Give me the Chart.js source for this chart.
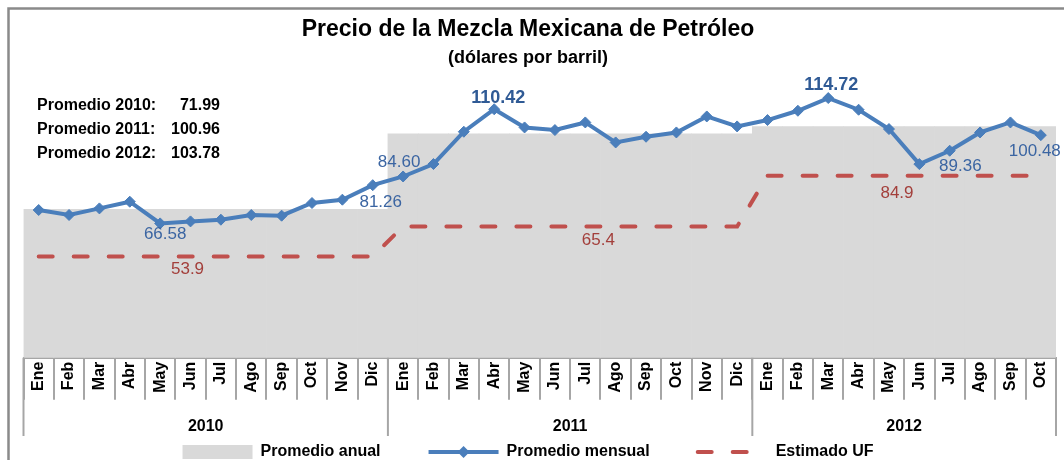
<!DOCTYPE html>
<html>
<head>
<meta charset="utf-8">
<script src="https://cdn.jsdelivr.net/npm/chart.js@4/dist/chart.umd.min.js"></script>
<style>
  html, body { margin: 0; padding: 0; background: #fff; overflow: hidden; }
  #wrap { width: 1064px; height: 470px; }
</style>
</head>
<body>
<div id="wrap"><canvas id="precio" width="1064" height="470"></canvas></div>
<script>
// Datos del grafico
var years = ['2010', '2011', '2012'];
var monthNames = ['Ene', 'Feb', 'Mar', 'Abr', 'May', 'Jun', 'Jul', 'Ago', 'Sep', 'Oct', 'Nov', 'Dic'];
var monthsPerYear = [12, 12, 10];
var promedioMensual = [
    71.72, 69.80, 72.34, 74.91, 66.58, 67.35, 68.00, 69.80, 69.54, 74.41, 75.68, 81.26,
    84.60, 89.38, 101.78, 110.42, 103.43, 102.43, 105.35, 97.67, 99.86, 101.51, 107.65, 103.82,
    106.27, 109.84, 114.72, 110.23, 102.82, 89.36, 94.49, 101.51, 105.35, 100.48
];
var promedioAnual = [71.99, 100.96, 103.78];
var estimadoUF = [53.9, 65.4, 84.9];

var FONT = 'Arial, "Liberation Sans", sans-serif';
Chart.defaults.font.family = FONT;

// one label per month, annual values repeated across each year
var labels = [], anual = [], uf = [];
years.forEach(function (y, k) {
    for (var m = 0; m < monthsPerYear[k]; m++) {
        labels.push(monthNames[m]);
        anual.push(promedioAnual[k]);
        uf.push(estimadoUF[k]);
    }
});

// data labels: dataset, index, offset
var etiquetas = [
    {ds: 1, i: 4, dx: 5, dy: 11},
    {ds: 1, i: 11, dx: 8, dy: 17},
    {ds: 1, i: 12, dx: -4, dy: -14},
    {ds: 1, i: 15, dx: 4, dy: -11, bold: true},
    {ds: 1, i: 26, dx: 3, dy: -13, bold: true},
    {ds: 1, i: 29, dx: 41, dy: 2},
    {ds: 1, i: 33, dx: -6, dy: 16},
    {ds: 2, i: 5, dx: -3, dy: 13},
    {ds: 2, i: 18, dx: 13, dy: 14},
    {ds: 2, i: 28, dx: 8, dy: 18}
];

var UF_DASH = [14, 21];

var extras = {
    id: 'extras',
    beforeDraw: function (chart) {
        var ctx = chart.ctx;
        ctx.save();
        ctx.fillStyle = '#fff';
        ctx.fillRect(0, 0, chart.width, chart.height);
        ctx.strokeStyle = '#8a8a8a';
        ctx.lineWidth = 2.5;
        ctx.beginPath();
        ctx.moveTo(8.5, chart.height);
        ctx.lineTo(8.5, 8.5);
        ctx.lineTo(chart.width, 8.5);
        ctx.stroke();
        ctx.restore();
    },
    afterDraw: function (chart) {
        var ctx = chart.ctx;
        var x = chart.scales.x;
        var area = chart.chartArea;
        ctx.save();

        // year separators and year labels
        var start = 0;
        var edges = [area.left];
        ctx.strokeStyle = '#a6a6a6';
        ctx.lineWidth = 2;
        ctx.font = 'bold 16px ' + FONT;
        ctx.fillStyle = '#000';
        ctx.textAlign = 'center';
        ctx.textBaseline = 'middle';
        years.forEach(function (y, k) {
            var end = start + monthsPerYear[k];
            var right = end >= labels.length ? area.right :
                (x.getPixelForTick(end - 1) + x.getPixelForTick(end)) / 2;
            edges.push(right);
            ctx.fillText(y, (edges[k] + right) / 2, 427);
            start = end;
        });
        edges.forEach(function (e) {
            ctx.beginPath();
            ctx.moveTo(e, area.bottom);
            ctx.lineTo(e, 436);
            ctx.stroke();
        });

        // data labels
        etiquetas.forEach(function (l) {
            var pt = chart.getDatasetMeta(l.ds).data[l.i];
            var v = chart.data.datasets[l.ds].data[l.i];
            if (l.ds === 1) {
                ctx.fillStyle = l.bold ? '#2f5a95' : '#3b65a2';
                ctx.font = (l.bold ? 'bold 18px ' : '17px ') + FONT;
                v = v.toFixed(2);
            } else {
                ctx.fillStyle = '#a33f3b';
                ctx.font = '17px ' + FONT;
            }
            ctx.fillText(String(v), pt.x + l.dx, pt.y + l.dy);
        });

        // annual averages
        ctx.font = 'bold 16px ' + FONT;
        ctx.fillStyle = '#000';
        years.forEach(function (y, k) {
            var ty = 106 + k * 24;
            ctx.textAlign = 'left';
            ctx.fillText('Promedio ' + y + ':', 37, ty);
            ctx.textAlign = 'right';
            ctx.fillText(promedioAnual[k].toFixed(2), 220, ty);
        });

        // diamond on the monthly legend line
        var lg = chart.legend;
        lg.legendItems.forEach(function (it, k) {
            if (it.datasetIndex !== 1) return;
            var hb = lg.legendHitBoxes[k];
            var cx = hb.left + 35, cy = hb.top + hb.height / 2;
            ctx.fillStyle = '#4a7ebb';
            ctx.beginPath();
            ctx.moveTo(cx, cy - 6);
            ctx.lineTo(cx + 6, cy);
            ctx.lineTo(cx, cy + 6);
            ctx.lineTo(cx - 6, cy);
            ctx.closePath();
            ctx.fill();
        });
        ctx.restore();
    }
};

new Chart(document.getElementById('precio'), {
    type: 'bar',
    data: {
        labels: labels,
        datasets: [
            {
                label: 'Promedio anual',
                data: anual,
                backgroundColor: '#d9d9d9',
                barPercentage: 1,
                categoryPercentage: 1,
                order: 3
            },
            {
                type: 'line',
                label: 'Promedio mensual',
                data: promedioMensual,
                borderColor: '#4a7ebb',
                backgroundColor: '#4a7ebb',
                borderWidth: 4,
                pointStyle: 'rectRot',
                pointRadius: 5.5,
                pointBorderWidth: 1,
                tension: 0,
                order: 1
            },
            {
                type: 'line',
                label: 'Estimado UF',
                data: uf,
                borderColor: '#c0504d',
                backgroundColor: '#c0504d',
                borderWidth: 4,
                borderDash: UF_DASH,
                borderCapStyle: 'round',
                pointRadius: 0,
                tension: 0,
                order: 2
            }
        ]
    },
    options: {
        responsive: false,
        animation: false,
        layout: { padding: { left: 0, right: 8, top: 0, bottom: 0 } },
        scales: {
            x: {
                offset: true,
                grid: { offset: true, drawOnChartArea: false, tickLength: 42, color: '#a6a6a6', lineWidth: 2 },
                border: { color: '#a6a6a6', width: 2 },
                ticks: {
                    autoSkip: false,
                    minRotation: 90,
                    maxRotation: 90,
                    padding: -38,
                    color: '#000',
                    font: { size: 16, weight: 'bold' }
                },
                afterFit: function (s) { s.height = 38.3; }
            },
            y: {
                min: 15,
                max: 125.8,
                ticks: { display: false },
                grid: { display: false },
                border: { display: false },
                afterFit: function (s) { s.width = 23.5; }
            }
        },
        plugins: {
            title: {
                display: true,
                text: 'Precio de la Mezcla Mexicana de Petróleo',
                color: '#000',
                font: { size: 23, weight: 'bold' },
                padding: { top: 16, bottom: 4 }
            },
            subtitle: {
                display: true,
                text: '(dólares por barril)',
                color: '#000',
                font: { size: 18, weight: 'bold' },
                padding: { top: 0, bottom: 0 }
            },
            legend: {
                position: 'bottom',
                labels: {
                    color: '#000',
                    font: { size: 16, weight: 'bold' },
                    usePointStyle: true,
                    pointStyleWidth: 70,
                    boxHeight: 14,
                    padding: 48,
                    sort: function (a, b) { return a.datasetIndex - b.datasetIndex; },
                    generateLabels: function (chart) {
                        var items = Chart.defaults.plugins.legend.labels.generateLabels(chart);
                        items.forEach(function (it) {
                            if (it.datasetIndex === 0) {
                                it.pointStyle = 'rect';
                                it.lineWidth = 0;
                            } else {
                                it.pointStyle = 'line';
                                it.lineWidth = 4;
                                it.strokeStyle = chart.data.datasets[it.datasetIndex].borderColor;
                            }
                            if (it.datasetIndex === 2) {
                                it.lineDash = UF_DASH;
                                it.lineCap = 'round';
                            }
                        });
                        return items;
                    }
                }
            },
            tooltip: { enabled: false }
        }
    },
    plugins: [extras]
});
</script>
</body>
</html>
